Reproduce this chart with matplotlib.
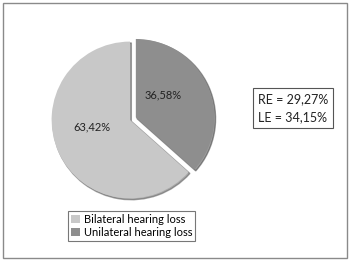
import matplotlib
matplotlib.use("Agg")
import matplotlib.pyplot as plt
from matplotlib.patches import Rectangle

# 数据
labels = ["Unilateral hearing loss", "Bilateral hearing loss"]
values = [36.58, 63.42]
colors = ["#8e8e8e", "#c8c8c8"]
explode = [0.08, 0]
side_lines = ["RE = 29,27%", "LE = 34,15%"]

plt.rcParams['font.family'] = ['Lato', 'DejaVu Sans']

fig = plt.figure(figsize=(3.5, 2.62), dpi=100)

# 外框
fig.patches.append(Rectangle((0.009, 0.015), 0.982, 0.972, transform=fig.transFigure,
                             fill=False, edgecolor="#8a8a8a", linewidth=1.0))

ax = fig.add_axes([50 / 350, (262 - 120 - 80) / 262, 160 / 350, 160 / 262])
wedges, texts, autotexts = ax.pie(
    values, colors=colors, explode=explode, startangle=90, counterclock=False,
    autopct=lambda p: f"{p:.2f}%".replace(".", ","), pctdistance=0.5,
    radius=0.98, shadow={'ox': 0.012, 'oy': -0.012, 'shade': 0.6},
    textprops={'fontsize': 8, 'color': '#222222'})
# 标签位置微调
autotexts[0].set_position((0.42, 0.31))
autotexts[1].set_position((-0.47, -0.09))
ax.set_xlim(-1, 1)
ax.set_ylim(-1, 1)
ax.set_aspect('equal')
ax.axis('off')

# 图例 (Bilateral 在上)
leg = fig.legend([wedges[1], wedges[0]], [labels[1], labels[0]],
                 loc='lower left', bbox_to_anchor=(68 / 350, 1 - 241 / 262),
                 fontsize=8, frameon=True, fancybox=False, edgecolor='#555555',
                 handlelength=0.8, handleheight=0.8, handletextpad=0.3,
                 borderpad=0.3, labelspacing=0.15, borderaxespad=0)
leg.get_frame().set_linewidth(0.8)

# 右侧文本框
fig.text(258 / 350, 1 - 108 / 262, "\n".join(side_lines), fontsize=9,
         va='center', ha='left', color='#222222', linespacing=1.6,
         bbox=dict(boxstyle='square,pad=0.4', facecolor='white',
                   edgecolor='#555555', linewidth=0.8))

fig.savefig("out.png", dpi=100)
